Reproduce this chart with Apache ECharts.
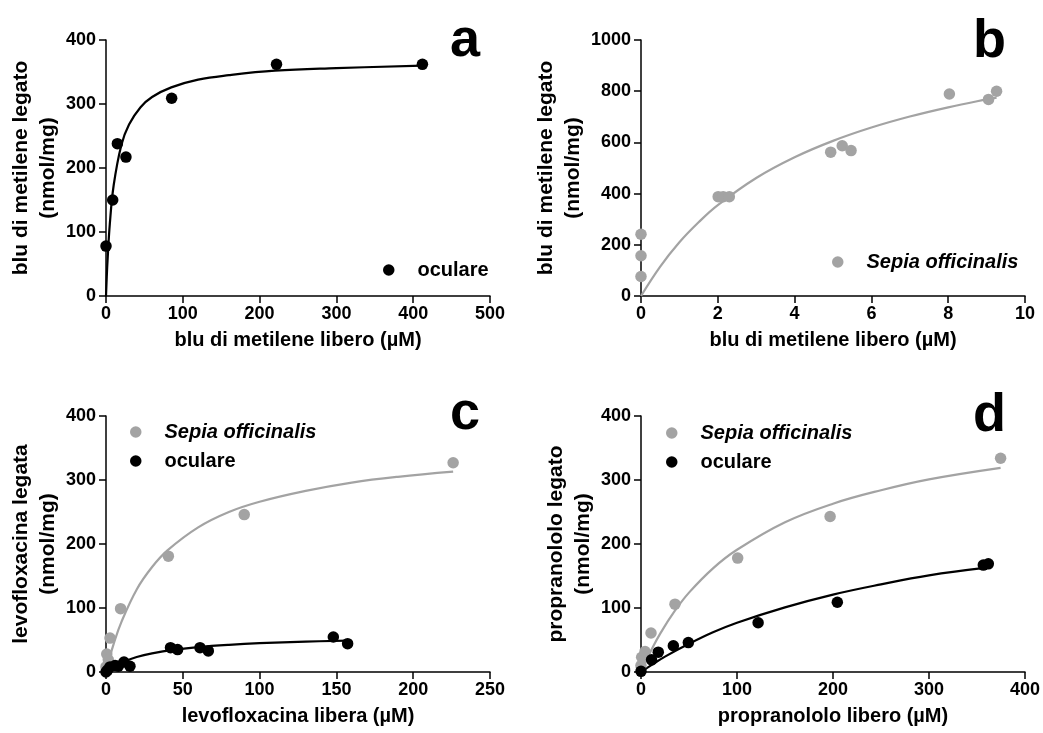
<!DOCTYPE html>
<html>
<head>
<meta charset="utf-8">
<script src="https://cdn.jsdelivr.net/npm/echarts@6/dist/echarts.min.js"></script>
<style>
html,body{margin:0;padding:0;background:#fff;}
#main{width:1043px;height:733px;}
</style>
</head>
<body>
<div id="main"></div>
<script>
// pannello a - blu di metilene, oculare
var aX = [0, 8.7, 14.8, 26, 85.5, 222, 412];
var aY = [78, 150, 238, 217, 309, 362, 362];
var aFitX = [0, 1, 2, 5, 10, 20, 30, 45, 60, 85, 120, 160, 220, 300, 412];
var aFitY = [0, 30, 55, 113, 173, 236, 268, 295, 311, 326, 338, 345, 352, 356, 360];

// pannello b - blu di metilene, Sepia officinalis
var bX = [0, 0, 0, 2.01, 2.14, 2.3, 4.94, 5.24, 5.47, 8.03, 9.05, 9.26];
var bY = [241, 157, 76, 388, 388, 388, 562, 587, 568, 789, 768, 800];
var bFitX = [0, 0.5, 1, 1.5, 2, 3, 4, 5, 6, 7, 8, 9, 9.26];
var bFitY = [0, 115, 210, 288, 355, 461, 542, 606, 658, 701, 737, 768, 775];

// pannello c - levofloxacina
var cSepX = [0, 0.5, 1.5, 2.6, 9.5, 40.6, 90, 226];
var cSepY = [8, 28, 19, 53, 99, 181, 246, 327];
var cSepFitX = [0, 2, 5, 10, 20, 30, 40, 60, 80, 100, 130, 160, 190, 226];
var cSepFitY = [0, 19, 44, 78, 129, 164, 190, 226, 250, 266, 283, 296, 305, 313];
var cOcuX = [0, 1, 2.6, 5.9, 8, 11.7, 15.6, 42, 46.6, 61.2, 66.6, 148, 157.3];
var cOcuY = [0, 3, 8, 10, 9, 15.6, 9, 38, 35, 38, 33, 54.7, 44.3];
var cOcuFitX = [0, 5, 10, 20, 30, 45, 60, 80, 100, 130, 157];
var cOcuFitY = [0, 8.3, 14.6, 23.4, 29.2, 35, 39, 42.5, 45, 47.5, 49];

// pannello d - propranololo
var dSepX = [0, 0.7, 4.2, 10.4, 35.4, 100.7, 197, 374.6];
var dSepY = [10, 23, 32, 61, 106, 178, 243, 334];
var dSepFitX = [0, 5, 10, 20, 35, 50, 75, 100, 150, 200, 250, 300, 374.6];
var dSepFitY = [0, 17, 32, 60, 95, 124, 162, 191, 234, 263, 284, 301, 319];
var dOcuX = [0, 11, 18, 33.7, 49.3, 122, 204.5, 356.6, 361.8];
var dOcuY = [1, 19, 31, 41, 46, 77, 109, 167, 169];
var dOcuFitX = [0, 10, 25, 50, 75, 100, 150, 200, 250, 300, 360];
var dOcuFitY = [0, 10, 24, 44, 62, 77, 101, 121, 137, 151, 163];

var panelLetters = ['a', 'b', 'c', 'd'];
var xNames = ['blu di metilene libero (\u00b5M)', 'blu di metilene libero (\u00b5M)', 'levofloxacina libera (\u00b5M)', 'propranololo libero (\u00b5M)'];
var yNames = ['blu di metilene legato\n(nmol/mg)', 'blu di metilene legato\n(nmol/mg)', 'levofloxacina legata\n(nmol/mg)', 'propranololo legato\n(nmol/mg)'];
var xMax = [500, 10, 250, 400];
var xStep = [100, 2, 50, 100];
var yMax = [400, 1000, 400, 400];
var yStep = [100, 200, 100, 100];

var GRAY = '#a3a3a3';
var FONT = '"Liberation Sans", Arial, sans-serif';
var labelMap = {
    'oculare_a': 'oculare', 'sepia_b': 'Sepia officinalis',
    'sepia_c': 'Sepia officinalis', 'oculare_c': 'oculare',
    'sepia_d': 'Sepia officinalis', 'oculare_d': 'oculare'
};

function pairs(xs, ys){
    var out = [];
    for(var i = 0; i < xs.length; i++){
        out.push([xs[i], ys[i]]);
    }
    return out;
}

var grids = [
    {left: 106, top: 40, width: 384, height: 256},
    {left: 641, top: 40, width: 384, height: 256},
    {left: 106, top: 416, width: 384, height: 256},
    {left: 641, top: 416, width: 384, height: 256}
];

var xAxes = [], yAxes = [], titles = [];
var titlePos = [[450, 14], [973, 15], [450, 387], [973, 389]];
for(var i = 0; i < 4; i++){
    xAxes.push({
        type: 'value', gridIndex: i, min: 0, max: xMax[i], interval: xStep[i],
        name: xNames[i], nameLocation: 'middle', nameGap: 34,
        nameTextStyle: {fontFamily: FONT, fontWeight: 'bold', fontSize: 20, color: '#000'},
        axisLine: {show: true, onZero: false, lineStyle: {color: '#000', width: 1.5}},
        axisTick: {show: true, length: 7, lineStyle: {color: '#000', width: 1.5}},
        axisLabel: {fontFamily: FONT, fontWeight: 'bold', fontSize: 18, color: '#000', margin: 9,
            formatter: function(v){ return String(v); }},
        splitLine: {show: false}
    });
    yAxes.push({
        type: 'value', gridIndex: i, min: 0, max: yMax[i], interval: yStep[i],
        name: yNames[i], nameLocation: 'middle', nameGap: 43, nameRotate: 90,
        nameTextStyle: {fontFamily: FONT, fontWeight: 'bold', fontSize: 21, color: '#000', lineHeight: 27},
        axisLine: {show: true, onZero: false, lineStyle: {color: '#000', width: 1.5}},
        axisTick: {show: true, length: 7, lineStyle: {color: '#000', width: 1.5}},
        axisLabel: {fontFamily: FONT, fontWeight: 'bold', fontSize: 18, color: '#000', margin: 10,
            formatter: function(v){ return String(v); }},
        splitLine: {show: false}
    });
    titles.push({
        text: panelLetters[i], left: titlePos[i][0], top: titlePos[i][1], padding: 0,
        textStyle: {fontFamily: FONT, fontWeight: 'bold', fontSize: 54, color: '#000'}
    });
}

function fitLine(name, idx, xs, ys, color){
    return {
        name: name, type: 'line', xAxisIndex: idx, yAxisIndex: idx,
        data: pairs(xs, ys), smooth: 0.4,
        showSymbol: false, symbol: 'none', silent: true, z: 2,
        lineStyle: {color: color, width: 2.2}
    };
}
function dots(name, idx, xs, ys, color){
    return {
        name: name, type: 'scatter', xAxisIndex: idx, yAxisIndex: idx,
        data: pairs(xs, ys), symbol: 'circle', symbolSize: 11.5, clip: false, z: 3,
        itemStyle: {color: color, opacity: 1}
    };
}

var legendText = {fontFamily: FONT, fontWeight: 'bold', fontSize: 20, color: '#000', padding: [0, 0, 0, 18]};
function legendBox(left, top, items){
    return {
        left: left, top: top, orient: 'vertical', itemGap: 9,
        itemWidth: 11.5, itemHeight: 11.5, icon: 'circle', selectedMode: false,
        padding: 0, textStyle: legendText,
        formatter: function(name){ return labelMap[name]; },
        data: items
    };
}
var italic = {fontStyle: 'italic'};

option = {
    animation: false,
    backgroundColor: '#fff',
    title: titles,
    grid: grids,
    xAxis: xAxes,
    yAxis: yAxes,
    legend: [
        legendBox(383, 260, [{name: 'oculare_a'}]),
        legendBox(832, 252, [{name: 'sepia_b', textStyle: italic}]),
        legendBox(130, 422, [{name: 'sepia_c', textStyle: italic}, {name: 'oculare_c'}]),
        legendBox(666, 423, [{name: 'sepia_d', textStyle: italic}, {name: 'oculare_d'}])
    ],
    series: [
        fitLine('fit_a', 0, aFitX, aFitY, '#000'),
        dots('oculare_a', 0, aX, aY, '#000'),
        fitLine('fit_b', 1, bFitX, bFitY, GRAY),
        dots('sepia_b', 1, bX, bY, GRAY),
        fitLine('fit_c1', 2, cSepFitX, cSepFitY, GRAY),
        fitLine('fit_c2', 2, cOcuFitX, cOcuFitY, '#000'),
        dots('sepia_c', 2, cSepX, cSepY, GRAY),
        dots('oculare_c', 2, cOcuX, cOcuY, '#000'),
        fitLine('fit_d1', 3, dSepFitX, dSepFitY, GRAY),
        fitLine('fit_d2', 3, dOcuFitX, dOcuFitY, '#000'),
        dots('sepia_d', 3, dSepX, dSepY, GRAY),
        dots('oculare_d', 3, dOcuX, dOcuY, '#000')
    ]
};

var chart = echarts.init(document.getElementById('main'));
chart.setOption(option);
</script>
</body>
</html>
